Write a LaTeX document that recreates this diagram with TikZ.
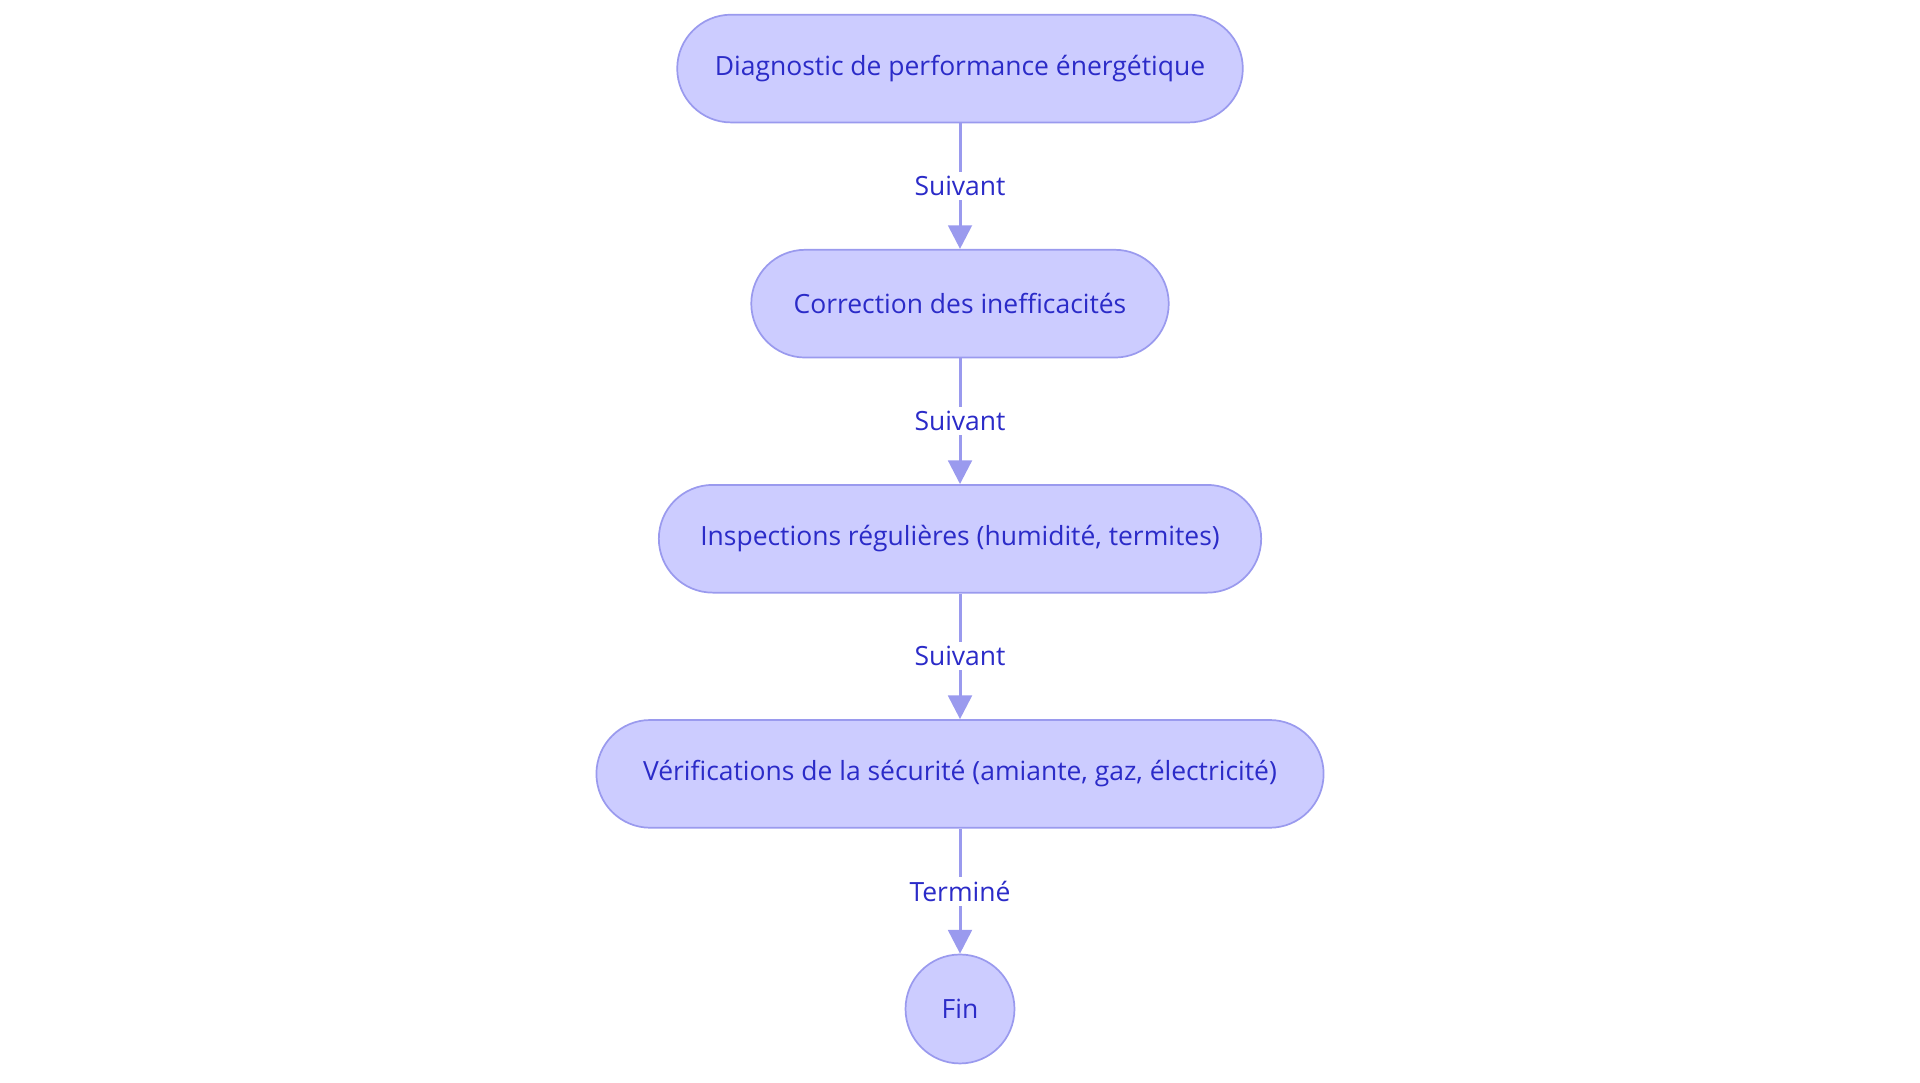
\documentclass[tikz,border=0pt]{standalone}
\usepackage{fontspec}
\setmainfont{Open Sans}
\usetikzlibrary{arrows.meta}
\definecolor{nfill}{HTML}{CCCCFF}
\definecolor{nline}{HTML}{9A9AEE}
\definecolor{ntext}{HTML}{2B2BC8}
\begin{document}
\begin{tikzpicture}[x=0.02cm,y=-0.02cm,
  box/.style={draw=nline, fill=nfill, text=ntext, line width=0.8pt, minimum height=1.76cm, font=\fontsize{12.3}{14}\selectfont},
  pill/.style={box, rounded corners=0.88cm},
  lab/.style={fill=white, text=ntext, font=\fontsize{12.3}{14}\selectfont, inner sep=2pt},
  arr/.style={draw=nline, line width=1.4pt, -{Triangle[length=11pt,width=11pt]}}]
\useasboundingbox (0,0) rectangle (1568,884);
\node[pill, minimum width=9.24cm] (a) at (784,56) {Diagnostic de performance énergétique};
\node[pill, minimum width=6.82cm] (b) at (784,248) {Correction des inefficacités};
\node[pill, minimum width=9.84cm] (c) at (784,440) {Inspections régulières (humidité, termites)};
\node[pill, minimum width=11.88cm] (d) at (784,632) {Vérifications de la sécurité (amiante, gaz, électricité)};
\node[circle, draw=nline, fill=nfill, text=ntext, line width=0.8pt, minimum size=1.78cm, font=\fontsize{12.3}{14}\selectfont] (e) at (784,824) {Fin};
\draw[arr] (a) -- node[lab] {Suivant} (b);
\draw[arr] (b) -- node[lab] {Suivant} (c);
\draw[arr] (c) -- node[lab] {Suivant} (d);
\draw[arr] (d) -- node[lab] {Terminé} (e);
\end{tikzpicture}
\end{document}
